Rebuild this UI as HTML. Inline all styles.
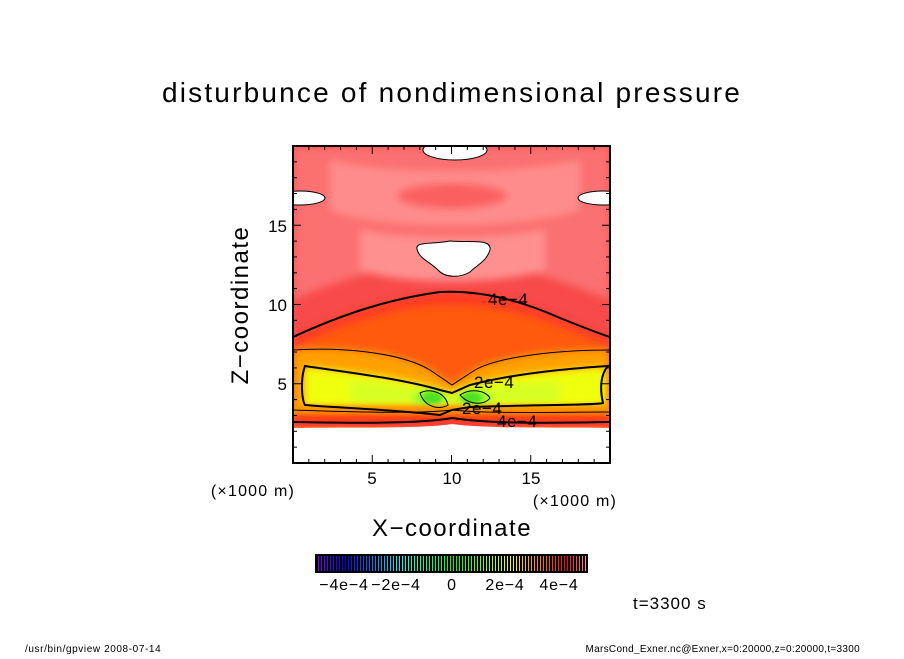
<!DOCTYPE html>
<html><head><meta charset="utf-8"><style>
body{margin:0;background:#fff;}
svg text{font-family:"Liberation Sans",sans-serif;}
</style></head><body>
<svg width="904" height="654" viewBox="0 0 904 654" xmlns="http://www.w3.org/2000/svg">
<defs>
<clipPath id="pc"><rect x="293" y="146" width="317" height="317"/></clipPath>
<filter id="bl" x="-10%" y="-10%" width="120%" height="120%"><feGaussianBlur stdDeviation="4"/></filter>
<filter id="bl2"><feGaussianBlur stdDeviation="2"/></filter>
</defs>
<text x="452" y="102" font-size="28" letter-spacing="2.2" text-anchor="middle">disturbunce of nondimensional pressure</text>

<g clip-path="url(#pc)">
<rect x="293" y="146" width="317" height="317" fill="#f84a4a"/>
<g filter="url(#bl)">
<path d="M293,146 H610 V300 C560,280 520,265 452,262 C380,265 340,280 293,300 Z" fill="#fb7070"/>
<path d="M330,160 C380,175 520,175 580,160 L580,210 C520,230 380,230 330,210 Z" fill="#ff8c8c"/>
<ellipse cx="452" cy="196" rx="55" ry="13" fill="#fb6060"/>
<path d="M360,230 C400,240 500,240 545,230 L545,270 C500,285 400,285 360,270 Z" fill="#ff9090"/>
<path d="M293,337 C330,320 380,300 440,292 C480,290 520,300 560,318 C590,330 600,334 610,337 V470 H293 Z" fill="#ff3a20"/>
<path d="M300,345 C340,325 400,305 452,305 C510,305 560,325 605,345 V470 H300 Z" fill="#ff5a10"/>
<path d="M293,350 C340,347 400,352 430,370 L452,385 L475,370 C500,356 560,350 610,350 V470 H293 Z" fill="#ffa000"/>
<path d="M305,368 C330,370 400,376 440,390 L452,393 L470,385 C520,372 580,370 605,368 V406 H305 Z" fill="#f0ff10"/>
<path d="M350,380 C400,382 440,392 452,396 C470,388 520,380 560,382 V404 H350 Z" fill="#d8ff20"/>
<ellipse cx="430" cy="398" rx="18" ry="9" fill="#90ff30"/>
<ellipse cx="474" cy="398" rx="18" ry="9" fill="#90ff30"/>
</g>
<g filter="url(#bl2)">
<ellipse cx="432" cy="398" rx="10" ry="6" fill="#50e020"/>
<ellipse cx="472" cy="398" rx="10" ry="6" fill="#50e020"/>
<rect x="293" y="406" width="317" height="10" fill="#ff9000"/>
<rect x="293" y="414" width="317" height="8" fill="#ff4010"/>
<rect x="293" y="421" width="317" height="7" fill="#ff3838"/>
</g>
<path d="M293,428 C350,427 420,429 452,424 C490,429 550,427 610,428 V463 H293 Z" fill="#fff"/>
<ellipse cx="455" cy="150" rx="32" ry="10" fill="#fff" stroke="#000"/>
<ellipse cx="300" cy="198" rx="25" ry="7" fill="#fff" stroke="#000"/>
<ellipse cx="603" cy="198" rx="25" ry="7" fill="#fff" stroke="#000"/>
<path d="M418,252 C412,240 430,245 450,241 C470,243 492,238 490,250 C486,262 478,264 470,272 C460,278 445,278 438,270 C430,262 422,260 418,252 Z" fill="#fff" stroke="#000"/>
<g fill="none" stroke="#000">
<path d="M293,337 C330,320 380,300 440,292 C480,290 520,300 560,318 C590,330 600,334 610,337" stroke-width="2"/>
<path d="M293,350 C340,347 400,352 430,370 L452,385 L475,370 C500,356 560,350 610,350" stroke-width="1"/>
<path d="M305,366 C300,380 302,400 305,405 C340,408 400,410 440,415 L452,410 L470,407 C530,405 600,405 603,403 C600,390 600,375 608,366 C580,368 520,372 470,385 L452,393 L440,390 C400,378 330,370 305,366 Z" stroke-width="2"/>
<path d="M420,393 C430,388 445,392 448,405 C440,410 425,408 420,393 Z" stroke-width="1"/>
<path d="M460,395 C470,388 485,390 490,398 C485,405 470,406 460,395 Z" stroke-width="1"/>
<path d="M293,410 C350,412 420,414 452,410 C490,414 560,412 610,412" stroke-width="1"/>
<path d="M293,422 C350,423 420,424 452,418 C490,424 550,423 610,422" stroke-width="2"/>
</g>
</g>
<g font-size="17" fill="#000" letter-spacing="0.5">
<text x="488" y="305">4e−4</text>
<text x="474" y="388">2e−4</text>
<text x="462" y="414">2e−4</text>
<text x="497" y="427">4e−4</text>
</g>
<rect x="293" y="146" width="317" height="317" fill="none" stroke="#000" stroke-width="2"/>
<g id="ticks" stroke="#000"></g>
<g font-size="17" text-anchor="middle">
<text x="372" y="484">5</text><text x="452" y="484">10</text><text x="531" y="484">15</text>
</g>
<g font-size="17" text-anchor="end">
<text x="287" y="390">5</text><text x="287" y="311">10</text><text x="287" y="232">15</text>
</g>
<text x="253" y="496" font-size="16" letter-spacing="1.2" text-anchor="middle">(×1000 m)</text>
<text x="575" y="506" font-size="16" letter-spacing="1.2" text-anchor="middle">(×1000 m)</text>
<text x="452" y="536" font-size="24" letter-spacing="1.5" text-anchor="middle">X−coordinate</text>
<text transform="translate(248,305) rotate(-90)" font-size="24" letter-spacing="1.5" text-anchor="middle">Z−coordinate</text>
<rect x="315" y="554" width="273" height="19" fill="#000"/>
<g id="cb" shape-rendering="crispEdges"></g>
<g font-size="16" letter-spacing="0.8" text-anchor="middle">
<text x="344" y="590">−4e−4</text><text x="396" y="590">−2e−4</text><text x="452" y="590">0</text><text x="505" y="590">2e−4</text><text x="559" y="590">4e−4</text>
</g>
<text x="633" y="609" font-size="17" letter-spacing="1">t=3300 s</text>
<text x="25" y="652" font-size="10" letter-spacing="0.6">/usr/bin/gpview  2008-07-14</text>
<text x="860" y="652" font-size="10" letter-spacing="0.3" text-anchor="end">MarsCond_Exner.nc@Exner,x=0:20000,z=0:20000,t=3300</text>
</svg>
<script>
const ticks=document.getElementById('ticks');
function ln(p,x1,y1,x2,y2){const l=document.createElementNS('http://www.w3.org/2000/svg','line');l.setAttribute('x1',x1);l.setAttribute('y1',y1);l.setAttribute('x2',x2);l.setAttribute('y2',y2);p.appendChild(l);return l;}
for(let i=1;i<20;i++){const L=i%5==0?8:4;const x=293+i*317/20;const y=463-i*317/20;
let t=ln(ticks,x,463,x,463-L);
t=ln(ticks,x,146,x,146+L);
t=ln(ticks,293,y,293+L,y);
t=ln(ticks,610,y,610-L,y);}
const cb=document.getElementById('cb');
const n=90;
for(let i=0;i<n;i++){const x=Math.round(318+i*3)+0.5;const f=i/(n-1);
let h=f<0.93?270-f/0.93*270:0;let l=f<0.93?50:50+(f-0.93)*400;
const c=ln(cb,x,556,x,571);c.setAttribute('stroke','hsl('+h+',100%,'+l+'%)');c.setAttribute('stroke-width','1');

}
</script>
</body></html>
